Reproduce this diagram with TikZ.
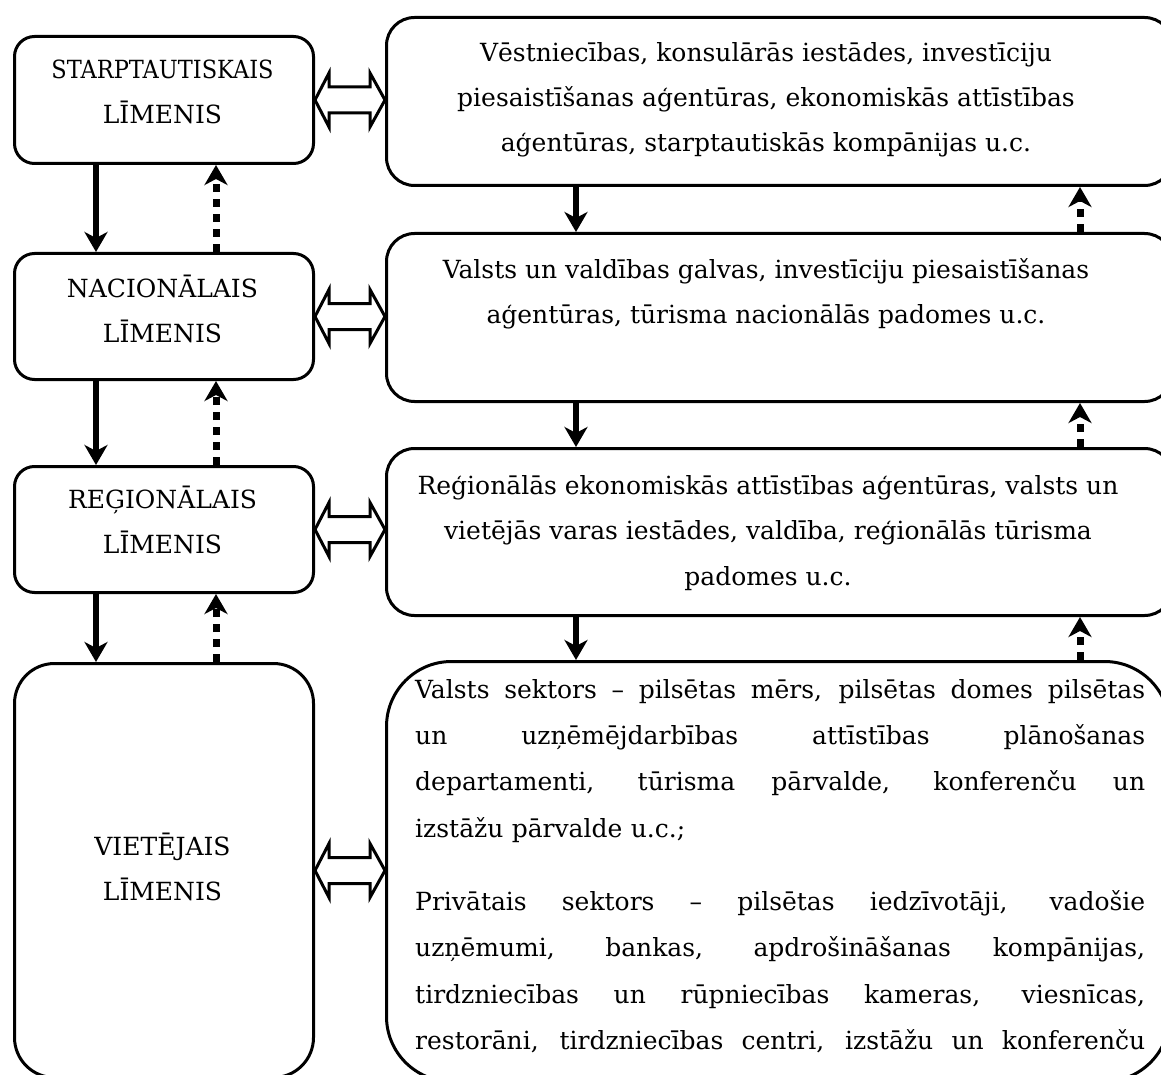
\documentclass[tikz,border=0pt]{standalone}
\usepackage{fontspec}
\setmainfont{DejaVu Serif}
\usetikzlibrary{calc,arrows.meta}
\newcommand\mainfs{\fontsize{25}{45}\selectfont}
\newcommand\jline[1]{\makebox[730pt][s]{\spaceskip=0pt\xspaceskip=0pt\relax #1}}
\newcommand\lline[1]{\makebox[730pt][l]{#1}}
\begin{document}
\begin{tikzpicture}[x=1pt,y=-1pt,
  box/.style={draw, line width=3pt, inner sep=0pt, anchor=north west},
  lbl/.style={font=\mainfs, align=center, inner sep=0pt},
  solidarr/.style={line width=6pt, -{Stealth[length=20pt,width=23pt,inset=6pt]}},
  dotarr/.style={line width=7pt, dash pattern=on 8pt off 7pt, -{Stealth[length=20pt,width=23pt,inset=6pt]}},
  dbl/.style={line width=3pt, line join=miter, fill=white}
]
\useasboundingbox (0,0) rectangle (1161,1075);
\fill[white] (0,0) rectangle (1161,1075);

% left column
\node[box, rounded corners=20pt, minimum width=299pt, minimum height=127pt] (L1) at (13,35) {};
\node[box, rounded corners=20pt, minimum width=299pt, minimum height=126pt] (L2) at (13,252) {};
\node[box, rounded corners=20pt, minimum width=299pt, minimum height=126pt] (L3) at (13,465) {};
\node[box, rounded corners=40pt, minimum width=299pt, minimum height=414pt] (L4) at (13,662) {};
% right column
\node[box, rounded corners=28pt, minimum width=786pt, minimum height=168pt] (R1) at (385,16) {};
\node[box, rounded corners=28pt, minimum width=786pt, minimum height=168pt] (R2) at (385,232) {};
\node[box, rounded corners=28pt, minimum width=786pt, minimum height=167pt] (R3) at (385,447) {};
\node[box, rounded corners=65pt, minimum width=783pt, minimum height=420pt] (R4) at (385,660) {};

% labels
\node[lbl] (L1t) at (162.5,92) {\scalebox{0.9}[1]{STARPTAUTISKAIS}\\LĪMENIS};
\node[lbl] (L2t) at (162.5,309) {NACIONĀLAIS\\LĪMENIS};
\node[lbl] (L3t) at (162.5,520) {REĢIONĀLAIS\\LĪMENIS};
\node[lbl] (L4t) at (162.5,867) {VIETĒJAIS\\LĪMENIS};

\node[lbl] (R1t) at (766,100) {Vēstniecības, konsulārās iestādes, investīciju\\piesaistīšanas aģentūras, ekonomiskās attīstības\\aģentūras, starptautiskās kompānijas u.c.};
\node[lbl] (R2t) at (766,294) {Valsts un valdības galvas, investīciju piesaistīšanas\\aģentūras, tūrisma nacionālās padomes u.c.};
\node[lbl, font=\fontsize{25}{45.5}\selectfont] (R3t) at (768,533) {Reģionālās ekonomiskās attīstības aģentūras, valsts un\\vietējās varas iestādes, valdība, reģionālās tūrisma\\padomes u.c.};

\node[font=\fontsize{25}{46.3}\selectfont, inner sep=0pt, anchor=north west, text width=730pt, align=left] (R4t) at (415,679) {%
\jline{Valsts sektors – pilsētas mērs, pilsētas domes pilsētas}\\
\jline{un uzņēmējdarbības attīstības plānošanas}\\
\jline{departamenti, tūrisma pārvalde, konferenču un}\\
\lline{izstāžu pārvalde u.c.;}\\[27pt]
\jline{Privātais sektors – pilsētas iedzīvotāji, vadošie}\\
\jline{uzņēmumi, bankas, apdrošināšanas kompānijas,}\\
\jline{tirdzniecības un rūpniecības kameras, viesnīcas,}\\
\jline{restorāni, tirdzniecības centri, izstāžu un konferenču}};

% column coordinates
\coordinate (ls) at (96,0);
\coordinate (ld) at (216,0);
\coordinate (rs) at (576,0);
\coordinate (rd) at (1080,0);

% vertical arrows
\draw[solidarr] (L1.south -| ls) -- (L2.north -| ls);
\draw[solidarr] (L2.south -| ls) -- (L3.north -| ls);
\draw[solidarr] (L3.south -| ls) -- (L4.north -| ls);
\draw[dotarr] (L2.north -| ld) -- (L1.south -| ld);
\draw[dotarr] (L3.north -| ld) -- (L2.south -| ld);
\draw[dotarr] (L4.north -| ld) -- (L3.south -| ld);
\draw[solidarr] (R1.south -| rs) -- (R2.north -| rs);
\draw[solidarr] (R2.south -| rs) -- (R3.north -| rs);
\draw[solidarr] (R3.south -| rs) -- (R4.north -| rs);
\draw[dotarr] (R2.north -| rd) -- (R1.south -| rd);
\draw[dotarr] (R3.north -| rd) -- (R2.south -| rd);
\draw[dotarr] (R4.north -| rd) -- (R3.south -| rd);

% double arrows
\foreach \k in {1,2,3,4}{
  \draw[dbl] (L\k.east) -- ++(14,-27) -- ++(0,14)
    -- ($(R\k.west |- L\k.east)+(-15,-13)$) -- ++(0,-14)
    -- (R\k.west |- L\k.east) -- ++(-15,27) -- ++(0,-14)
    -- ($(L\k.east)+(14,13)$) -- ++(0,14) -- cycle;
}
\end{tikzpicture}
\end{document}
